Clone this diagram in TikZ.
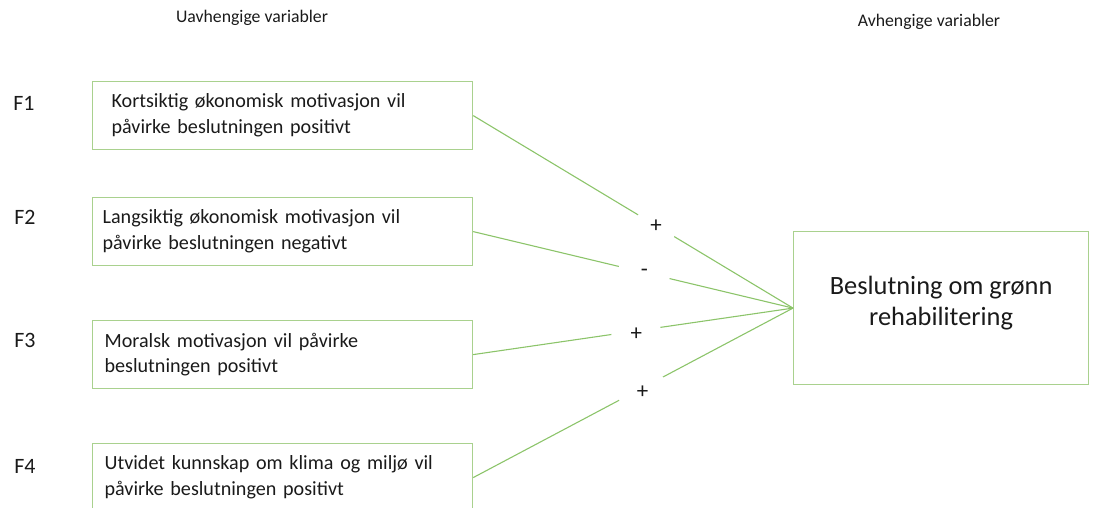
\documentclass[tikz,border=0pt]{standalone}
\usepackage{fontspec}
\setmainfont{Carlito}
\definecolor{boxgreen}{HTML}{A9D18E}
\definecolor{linegreen}{HTML}{8CC46A}
\definecolor{txt}{HTML}{1A1A1A}
\begin{document}
\begin{tikzpicture}[x=1bp,y=-1bp,
  vbox/.style={draw=boxgreen, line width=1.2bp, rectangle, minimum height=68bp,
    align=left, inner ysep=0pt, font=\fontsize{20.2}{26}\selectfont, text=txt, anchor=north west},
  hdr/.style={font=\fontsize{17.8}{20}\selectfont, text=txt},
  flab/.style={font=\fontsize{22}{24}\selectfont, text=txt},
  conn/.style={draw=linegreen, line width=1.1bp},
  sign/.style={fill=white, circle, minimum size=40bp, inner sep=0pt, font=\fontsize{23}{24}\selectfont, text=txt}
]
\useasboundingbox (0,0) rectangle (1093,508);
\node[hdr] (h1) at (252,18) {Uavhengige variabler};
\node[hdr] (h2) at (929,22) {Avhengige variabler};

\node[flab] (f1) at (24,103) {F1};
\node[flab] (f2) at (25,217) {F2};
\node[flab] (f3) at (25,340) {F3};
\node[flab] (f4) at (25,466) {F4};

\node[vbox, inner xsep=19bp, text width=342bp] (b1) at (92,81) {Kortsiktig økonomisk motivasjon vil\\påvirke beslutningen positivt};
\node[vbox, inner xsep=10bp, text width=360bp] (b2) at (92,197) {Langsiktig økonomisk motivasjon vil\\påvirke beslutningen negativt};
\node[vbox, inner xsep=12bp, text width=356bp] (b3) at (92,320) {Moralsk motivasjon vil påvirke\\beslutningen positivt};
\node[vbox, inner xsep=12bp, text width=356bp] (b4) at (92,443) {Utvidet kunnskap om klima og miljø vil\\påvirke beslutningen positivt};

\node[draw=boxgreen, line width=1.2bp, rectangle, minimum width=295bp, minimum height=153bp,
  anchor=north west] (t) at (793,231) {};
\node[align=center, font=\fontsize{26.5}{31}\selectfont, text=txt, yshift=5bp] (tt) at (t.center)
  {Beslutning om grønn\\rehabilitering};

\draw[conn] (b1.east) -- node[sign, pos=0.572, minimum size=42bp] {+} (t.west);
\draw[conn] (b2.east) -- node[sign, pos=0.535, minimum size=52bp] {-} (t.west);
\draw[conn] (b3.east) -- node[sign, pos=0.51, minimum size=50bp, yshift=-3bp] {+} (t.west);
\draw[conn] (b4.east) -- node[sign, pos=0.53, minimum size=50bp, yshift=-4bp] {+} (t.west);
\end{tikzpicture}
\end{document}
